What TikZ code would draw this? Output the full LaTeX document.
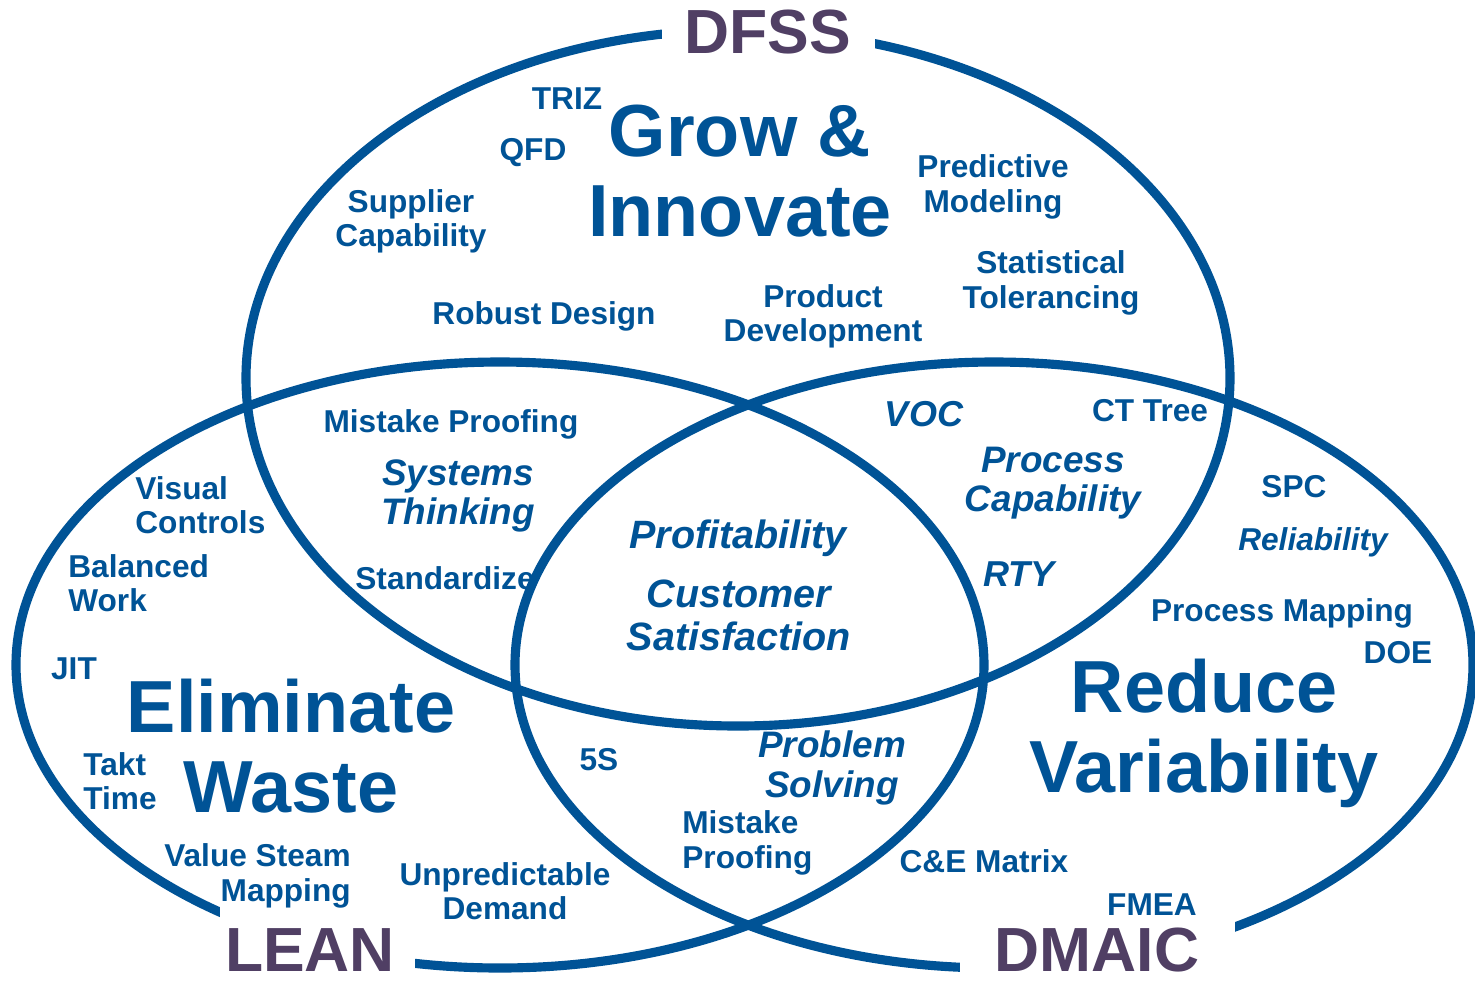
\documentclass[tikz,border=0pt]{standalone}
\usepackage{fontspec}
\setmainfont{Liberation Sans}
\definecolor{vennblue}{RGB}{0,83,150}
\definecolor{vennpurple}{RGB}{80,63,100}
\tikzset{
	ring/.style={line width=5.2pt, color=vennblue},
	gap/.style={fill=white},
	tool/.style={text=vennblue, inner sep=0pt, align=center, font=\bfseries\fontsize{18}{19.5}\selectfont},
	theme/.style={text=vennblue, inner sep=0pt, align=center, font=\bfseries\itshape\fontsize{21}{22.5}\selectfont},
	core/.style={text=vennblue, inner sep=0pt, align=center, font=\bfseries\itshape\fontsize{22.5}{24.5}\selectfont},
	goal/.style={text=vennblue, inner sep=0pt, align=center, font=\bfseries\fontsize{42}{45.5}\selectfont},
	method/.style={text=vennpurple, inner sep=0pt, font=\bfseries\fontsize{35.5}{36}\selectfont}
}

\begin{document}
\begin{tikzpicture}[x=0.02cm, y=-0.02cm]
		%%%%% START %%%%%
		\useasboundingbox (0, 0) rectangle (1475, 985);
		
		\draw[ring] (738, 378) ellipse [x radius=492, y radius=348];
		\draw[ring] (500, 665) ellipse [x radius=484, y radius=303];
		\draw[ring] (994, 665) ellipse [x radius=479, y radius=303];
		
		\fill[gap] (662, 0) rectangle (875, 62);
		\fill[gap] (220, 903) rectangle (415, 990);
		\fill[gap] (960, 915) rectangle (1235, 990);
		
		\node[method] (dfss) at (768, 32) {DFSS};
		\node[method] (lean) at (310, 950) {LEAN};
		\node[method] (dmaic) at (1097, 950) {DMAIC};
		
		% DFSS
		\node[goal] (grow) at (740, 171) {Grow \&\\Innovate};
		\node[tool] (triz) at (567, 99) {TRIZ};
		\node[tool] (qfd) at (533, 153) {QFD};
		\node[tool] (supplier) at (411, 221) {Supplier\\Capability};
		\node[tool] (robust) at (544, 316) {Robust Design};
		\node[tool] (product) at (823, 316) {Product\\Development};
		\node[tool] (predictive) at (993, 187) {Predictive\\Modeling};
		\node[tool] (tolerancing) at (1051, 283) {Statistical\\Tolerancing};
		
		% DFSS and LEAN
		\node[tool] (proofing) at (451, 424) {Mistake Proofing};
		\node[theme] (systems) at (458, 496) {Systems\\Thinking};
		\node[tool] (standardize) at (445, 578) {Standardize};
		
		% LEAN
		\node[goal] (waste) at (291, 746) {Eliminate\\Waste};
		\node[tool, align=left, anchor=west] (visual) at (135, 505) {Visual\\Controls};
		\node[tool, align=left, anchor=west] (balanced) at (68, 583) {Balanced\\Work};
		\node[tool] (jit) at (74, 669) {JIT};
		\node[tool, align=left, anchor=west] (takt) at (83, 781) {Takt\\Time};
		\node[tool, align=right, anchor=east] (vsm) at (351, 876) {Value Steam\\Mapping};
		\node[tool] (demand) at (505, 891) {Unpredictable\\Demand};
		
		% LEAN and DMAIC
		\node[tool] (fives) at (599, 760) {5S};
		\node[theme] (problem) at (832, 768) {Problem\\Solving};
		\node[tool, align=left, anchor=west] (proofing2) at (682, 843) {Mistake\\Proofing};
		
		% all three
		\node[core] (profit) at (738, 538) {Profitability};
		\node[core] (customer) at (739, 615) {Customer\\Satisfaction};
		
		% DFSS and DMAIC
		\node[theme, font=\bfseries\itshape\fontsize{20.5}{22}\selectfont] (voc) at (924, 414) {VOC};
		\node[tool] (cttree) at (1150, 411) {CT Tree};
		\node[theme] (capability) at (1053, 483) {Process\\Capability};
		\node[theme, font=\bfseries\itshape\fontsize{20.5}{22}\selectfont] (rty) at (1019, 574) {RTY};
		
		% DMAIC
		\node[goal] (reduce) at (1204, 733) {Reduce\\Variability};
		\node[tool] (spc) at (1294, 487) {SPC};
		\node[tool, font=\bfseries\itshape\fontsize{18}{19.5}\selectfont] (reliability) at (1313, 542) {Reliability};
		\node[tool] (mapping) at (1282, 613) {Process Mapping};
		\node[tool] (doe) at (1398, 653) {DOE};
		\node[tool] (cematrix) at (984, 861) {C\&E Matrix};
		\node[tool] (fmea) at (1152, 905) {FMEA};
		
		%%%%% END %%%%%
\end{tikzpicture}
\end{document}
